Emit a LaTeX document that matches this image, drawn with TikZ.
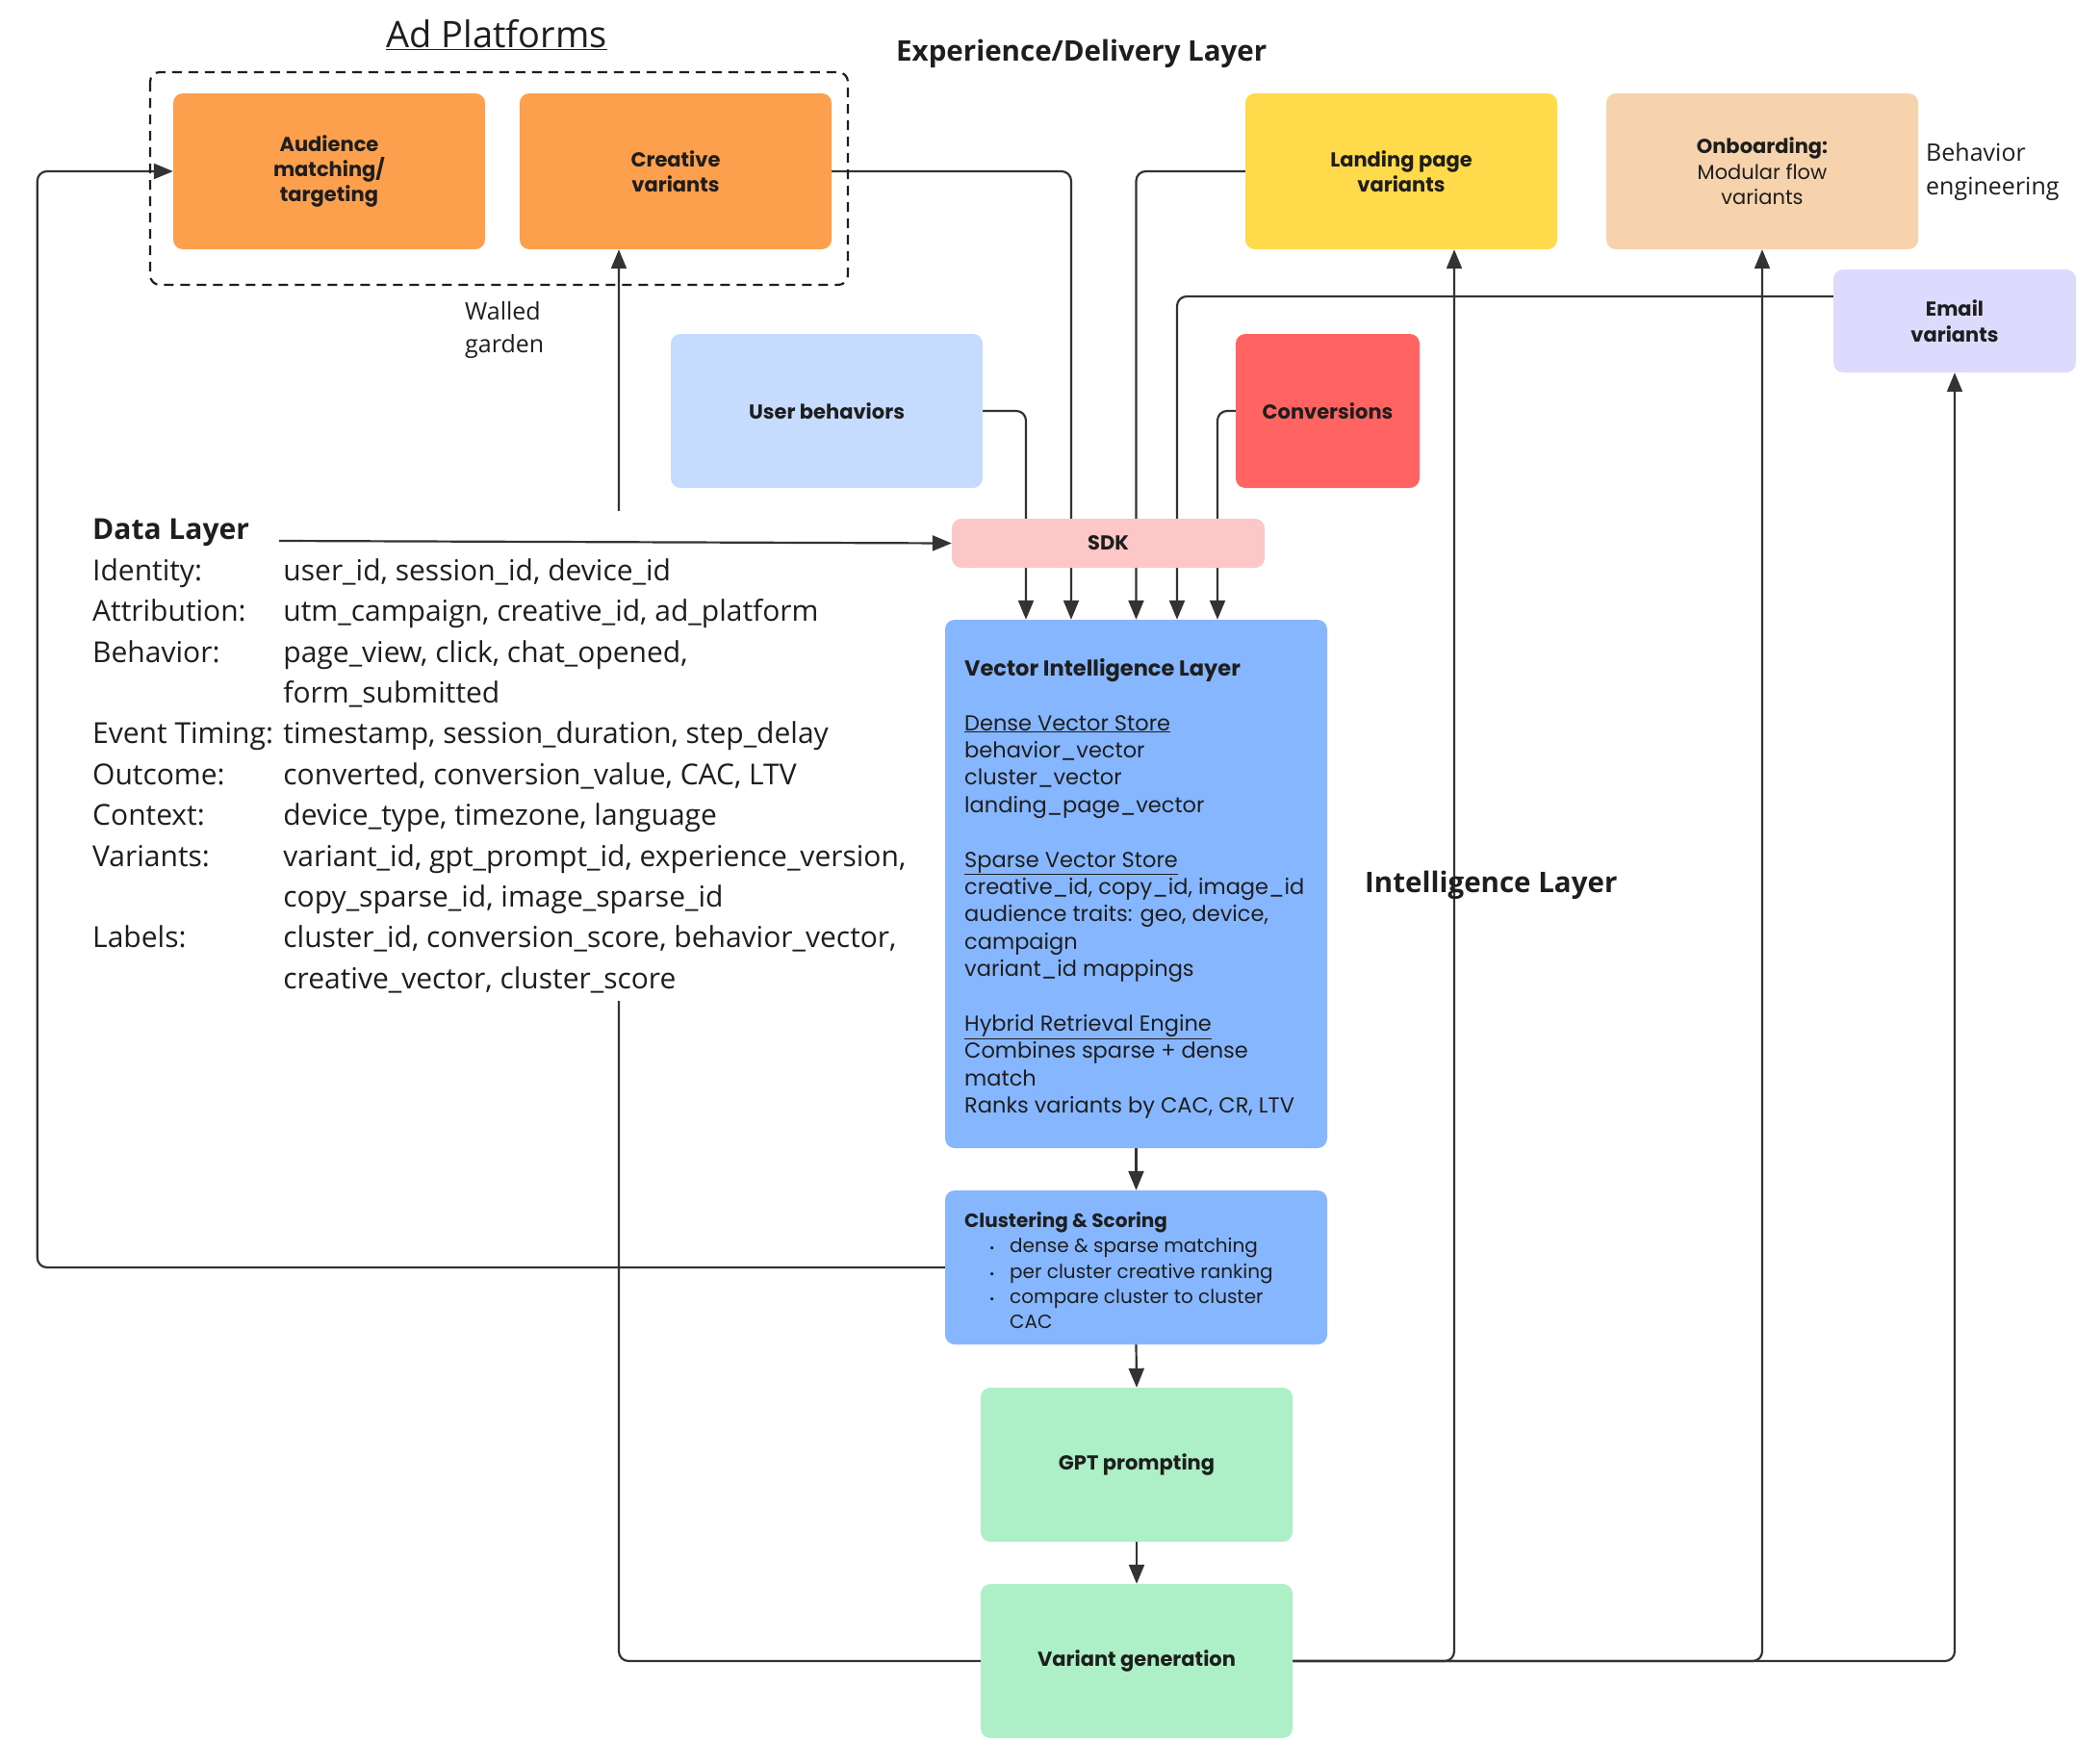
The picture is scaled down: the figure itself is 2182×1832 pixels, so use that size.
\documentclass[tikz,border=0pt]{standalone}
\usepackage{fontspec}
\setmainfont{Open Sans}
\newfontfamily\boxfont{Poppins}
\usetikzlibrary{arrows.meta}
\pgfdeclarelayer{back}
\pgfdeclarelayer{bg}
\pgfsetlayers{back,bg,main}
\definecolor{orangebox}{RGB}{253,160,78}
\definecolor{yellowbox}{RGB}{255,218,74}
\definecolor{peachbox}{RGB}{246,211,173}
\definecolor{lavbox}{RGB}{221,219,253}
\definecolor{lightbluebox}{RGB}{198,220,254}
\definecolor{redbox}{RGB}{255,100,98}
\definecolor{pinkbox}{RGB}{253,199,199}
\definecolor{bluebox}{RGB}{134,182,253}
\definecolor{greenbox}{RGB}{173,240,200}
\definecolor{linec}{RGB}{51,51,51}
\definecolor{textc}{RGB}{30,30,30}
\tikzset{
  box/.style={rounded corners=10pt, inner sep=0pt, align=center, text=textc,
    font=\boxfont\bfseries\fontsize{21}{26.4}\selectfont},
  conn/.style={draw=linec, line width=2.2pt, rounded corners=10pt},
  arr/.style={-{Triangle[length=20pt,width=16pt]}},
  plain/.style={inner sep=0pt, text=textc},
}
\begin{document}
\begin{tikzpicture}[x=1pt,y=-1pt]
\begin{pgfonlayer}{back}
\fill[white] (0,0) rectangle (2182,1832);
\end{pgfonlayer}
\useasboundingbox (0,0) rectangle (2182,1832);

% ad platforms group
\draw[line width=2.2pt, draw=textc, dash pattern=on 10pt off 7pt, rounded corners=10pt] (156,75) rectangle (881,296);
\node[plain, font=\fontsize{38}{40}\selectfont] (adtitle) at (516,36) {\underline{Ad Platforms}};
\node[box, fill=orangebox, minimum width=324pt, minimum height=162pt] (aud) at (342,178) {Audience\\matching/\\targeting};
\node[box, fill=orangebox, minimum width=324pt, minimum height=162pt] (cre) at (702,178) {Creative\\variants};
\node[plain, anchor=west, align=left, font=\fontsize{25}{34}\selectfont] (walled) at (483,343) {Walled\\garden};

% experience layer
\node[plain, anchor=west, font=\bfseries\fontsize{29.5}{34}\selectfont] (exptitle) at (931,56) {Experience/Delivery Layer};
\node[box, fill=yellowbox, minimum width=324pt, minimum height=162pt] (land) at (1456,178) {Landing page\\variants};
\node[box, fill=peachbox, minimum width=324pt, minimum height=162pt] (onb) at (1831,178) {Onboarding:\\{\mdseries Modular flow}\\{\mdseries variants}};
\node[plain, anchor=west, align=left, font=\fontsize{25}{35}\selectfont] (behav) at (2001,178) {Behavior\\engineering};
\node[box, fill=lavbox, minimum width=252pt, minimum height=107pt] (email) at (2031,333.5) {Email\\variants};

% inputs
\node[box, fill=lightbluebox, minimum width=324pt, minimum height=160pt] (user) at (859,427) {User behaviors};
\node[box, fill=redbox, minimum width=191pt, minimum height=160pt] (conv) at (1379.5,427) {Conversions};
\node[box, fill=pinkbox, minimum width=325pt, minimum height=51pt] (sdk) at (1151.5,564.5) {SDK};

% intelligence
\node[box, fill=bluebox, minimum width=397pt, minimum height=549pt] (vec) at (1180.5,918.5) {};
\node[plain, anchor=north west, align=left, font=\boxfont\fontsize{22.5}{28.4}\selectfont] (vectxt) at (1002,684) {%
\textbf{Vector Intelligence Layer}\\[28.4pt]
\underline{Dense Vector Store}\\
behavior\_vector\\
cluster\_vector\\
landing\_page\_vector\\[28.4pt]
\underline{Sparse Vector Store}\\
creative\_id, copy\_id, image\_id\\
audience traits: geo, device,\\
campaign\\
variant\_id mappings\\[28.4pt]
\underline{Hybrid Retrieval Engine}\\
Combines sparse + dense\\
match\\
Ranks variants by CAC, CR, LTV};
\node[plain, anchor=west, font=\bfseries\fontsize{29.5}{34}\selectfont] (inttitle) at (1418,920) {Intelligence Layer};

\node[box, fill=bluebox, minimum width=397pt, minimum height=160pt] (clu) at (1180.5,1317) {};
\node[plain, anchor=north west, align=left, font=\boxfont\fontsize{20}{26.4}\selectfont] (clutxt) at (1002,1259) {%
\textbf{Clustering \& Scoring}\\
\hspace*{26pt}\makebox[21pt][l]{\fontsize{13}{13}\selectfont\textbullet}dense \& sparse matching\\
\hspace*{26pt}\makebox[21pt][l]{\fontsize{13}{13}\selectfont\textbullet}per cluster creative ranking\\
\hspace*{26pt}\makebox[21pt][l]{\fontsize{13}{13}\selectfont\textbullet}compare cluster to cluster\\
\hspace*{47pt}CAC};

\node[box, fill=greenbox, minimum width=324pt, minimum height=160pt] (gpt) at (1181,1522) {GPT prompting};
\node[box, fill=greenbox, minimum width=324pt, minimum height=160pt] (vg) at (1181,1726) {Variant generation};

% data layer
\node[plain, anchor=north west, fill=white, font=\fontsize{30}{42.4}\selectfont] (data) at (96,531) {%
\begin{tabular}{@{}l@{ }l@{}}
\textbf{Data Layer} & \\
Identity: & user\_id, session\_id, device\_id\\
Attribution: & utm\_campaign, creative\_id, ad\_platform\\
Behavior: & page\_view, click, chat\_opened,\\
 & form\_submitted\\
Event Timing: & timestamp, session\_duration, step\_delay\\
Outcome: & converted, conversion\_value, CAC, LTV\\
Context: & device\_type, timezone, language\\
Variants: & variant\_id, gpt\_prompt\_id, experience\_version,\\
 & copy\_sparse\_id, image\_sparse\_id\\
Labels: & cluster\_id, conversion\_score, behavior\_vector,\\
 & creative\_vector, cluster\_score
\end{tabular}};
\coordinate (dstart) at (290,562);
\draw[conn,arr] (dstart) -- (sdk.west);

\begin{pgfonlayer}{bg}
\draw[conn,arr] (user.east) -| ([xshift=-114.5pt]vec.north);
\draw[conn,arr] (cre.east) -| ([xshift=-67.5pt]vec.north);
\draw[conn,arr] (land.west) -| (vec.north);
\draw[conn,arr] ([yshift=25.5pt]email.west) -| ([xshift=42.5pt]vec.north);
\draw[conn,arr] (conv.west) -| ([xshift=84.5pt]vec.north);
\draw[conn,arr] (vec.south) -- (clu.north);
\draw[conn,arr] (clu.south) -- (gpt.north);
\draw[conn,arr] (gpt.south) -- (vg.north);
\draw[conn,arr] (clu.west) -- ++(-943,0) |- (aud.west);
\draw[conn,arr] (vg.west) -| ([xshift=-59pt]cre.south);
\draw[conn,arr] (vg.east) -| ([xshift=55pt]land.south);
\draw[conn,arr] (vg.east) -| (onb.south);
\draw[conn,arr] (vg.east) -| (email.south);
\end{pgfonlayer}
\end{tikzpicture}
\end{document}
